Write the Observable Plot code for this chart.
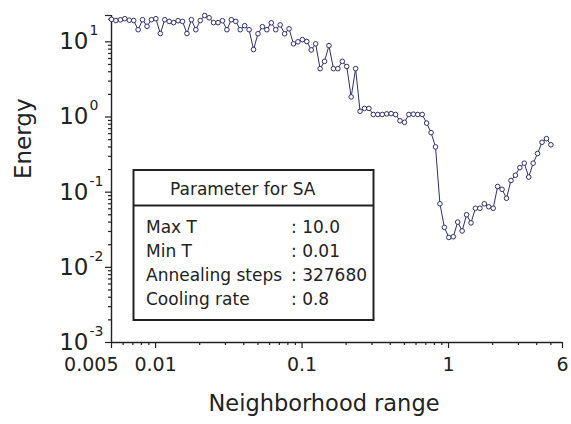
<!DOCTYPE html>
<html><head><meta charset="utf-8">
<script src="https://cdn.jsdelivr.net/npm/d3@7"></script>
<script src="https://cdn.jsdelivr.net/npm/@observablehq/plot@0.6"></script>
<style>
body{margin:0;background:#fff;}
#chart{width:571px;height:424px;}
</style></head>
<body><div id="chart"></div>
<script>
const neighborhoodRange = [
 0.005, 0.005362, 0.005749, 0.006164, 0.006610, 0.007088, 0.007600, 0.008149, 0.008738, 0.009369,
 0.010046, 0.010772, 0.011551, 0.012386, 0.013281, 0.014240, 0.015270, 0.016373, 0.017556, 0.018825,
 0.020185, 0.021644, 0.023208, 0.024885, 0.026684, 0.028612, 0.030680, 0.032897, 0.035274, 0.037823,
 0.040557, 0.043488, 0.046630,
 0.05, 0.05362, 0.05749, 0.06164, 0.06610, 0.07088, 0.07600, 0.08149, 0.08738, 0.09369,
 0.10046, 0.10772, 0.11551, 0.12386, 0.13281, 0.14240, 0.15270, 0.16373, 0.17556, 0.18825,
 0.20185, 0.21644, 0.23208, 0.24885, 0.26684, 0.28612, 0.30680, 0.32897, 0.35274, 0.37823,
 0.40557, 0.43488, 0.46630,
 0.5, 0.5362, 0.5749, 0.6164, 0.6610, 0.7088, 0.7600, 0.8149, 0.8738, 0.9369,
 1.0046, 1.0772, 1.1551, 1.2386, 1.3281, 1.4240, 1.5270, 1.6373, 1.7556, 1.8825,
 2.0185, 2.1644, 2.3208, 2.4885, 2.6684, 2.8612, 3.0680, 3.2897, 3.5274, 3.7823,
 4.0557, 4.3488, 4.6630, 5.0
];
const energy = [
 19.9, 19.2, 19.6, 20.3, 19.4, 19.2, 14.5, 19.7, 16.1, 19.7,
 20.3, 12.9, 19.7, 18.7, 18.0, 19.1, 18.7, 12.9, 19.7, 14.5,
 19.2, 22.4, 20.9, 18.0, 18.0, 19.1, 14.5, 19.7, 18.7, 14.5,
 16.4, 14.5, 7.9, 12.8, 15.9, 14.5, 17.9, 14.5, 16.8, 12.8,
 14.9, 9.4, 10.0, 10.7, 10.1, 7.8, 9.4, 4.4, 5.5, 8.9,
 4.4, 4.4, 5.5, 4.7, 1.85, 4.4, 1.19, 1.30, 1.30, 1.08,
 1.08, 1.08, 1.10, 1.11, 1.08, 0.89, 0.85, 1.08, 1.09, 1.08,
 1.08, 0.83, 0.62, 0.40, 0.070, 0.034, 0.025, 0.0255, 0.040, 0.0305,
 0.050, 0.039, 0.061, 0.061, 0.070, 0.064, 0.061, 0.119, 0.109, 0.083,
 0.143, 0.168, 0.212, 0.243, 0.159, 0.243, 0.327, 0.461, 0.515, 0.427
];
const xTickValues = [0.005, 0.01, 0.1, 1, 6];
const xTickLabels = ["0.005", "0.01", "0.1", "1", "6"];
const yTickExponents = [1, 0, -1, -2, -3];
const xTitle = "Neighborhood range";
const yTitle = "Energy";
const legendTitle = "Parameter for SA";
const paramLabels = ["Max T", "Min T", "Annealing steps", "Cooling rate"];
const paramValues = [": 10.0", ": 0.01", ": 327680", ": 0.8"];

const X_DOMAIN = [0.005, 6];
const Y_DOMAIN = [0.001, 22.4];
const data = neighborhoodRange.map((x, i) => ({x, y: energy[i]}));

const xMinor = [];
for (const k of [-3, -2, -1, 0]) for (let m = 2; m <= 9; m++) {
  const v = m * 10 ** k;
  if (v > X_DOMAIN[0] * 1.0001 && v < X_DOMAIN[1] * 0.9999) xMinor.push(v);
}
const yMinor = [];
for (const k of [-3, -2, -1, 0, 1]) for (let m = 2; m <= 9; m++) {
  const v = m * 10 ** k;
  if (v < Y_DOMAIN[1]) yMinor.push(v);
}
const yMajor = yTickExponents.map(e => 10 ** e).concat([Y_DOMAIN[1]]);

const ink = "#222";
const lineColor = "#2f2f6b";

const plot = Plot.plot({
  width: 571, height: 424,
  marginLeft: 111, marginRight: 9, marginTop: 15, marginBottom: 82,
  x: {type: "log", domain: X_DOMAIN, axis: null},
  y: {type: "log", domain: Y_DOMAIN, axis: null},
  style: {fontFamily: "DejaVu Sans", background: "white", color: ink, overflow: "visible"},
  marks: [
    Plot.axisX({ticks: xTickValues, tickSize: 6, tickFormat: () => "", label: null, stroke: ink, strokeWidth: 1.2}),
    Plot.axisX({ticks: xMinor, tickSize: 3, tickFormat: () => "", label: null, stroke: ink, strokeWidth: 1.2}),
    Plot.axisY({ticks: yMajor, tickSize: 6, tickFormat: () => "", label: null, stroke: ink, strokeWidth: 1.2}),
    Plot.axisY({ticks: yMinor, tickSize: 3, tickFormat: () => "", label: null, stroke: ink, strokeWidth: 1.2}),
    Plot.ruleY([Y_DOMAIN[0]], {stroke: ink, strokeWidth: 1.4}),
    Plot.ruleX([X_DOMAIN[0]], {stroke: ink, strokeWidth: 1.4}),
    Plot.text(xTickValues.slice(0, 1), {x: d => d, text: () => xTickLabels[0], frameAnchor: "bottom", dy: 28, dx: 7, textAnchor: "end", fontSize: 19, fill: ink}),
    Plot.text(xTickValues.slice(1), {x: d => d, text: (d, i) => xTickLabels[i + 1], frameAnchor: "bottom", dy: 28, fontSize: 19, fill: ink}),
    Plot.text(yTickExponents, {y: d => 10 ** d, text: () => "10", frameAnchor: "left", dx: -23, textAnchor: "end", fontSize: 23, fill: ink}),
    Plot.text(yTickExponents, {y: d => 10 ** d, text: d => String(d), frameAnchor: "left", dx: -22, dy: -11, textAnchor: "start", fontSize: 14, fill: ink}),
    Plot.text([xTitle], {frameAnchor: "bottom", dy: 68, dx: -13, fontSize: 22.5, fill: ink}),
    Plot.text([yTitle], {frameAnchor: "left", dx: -88, rotate: -90, fontSize: 23, fill: ink}),
    Plot.line(data, {x: "x", y: "y", stroke: lineColor, strokeWidth: 1}),
    Plot.dot(data, {x: "x", y: "y", r: 2.3, stroke: lineColor, fill: "white", strokeWidth: 1})
  ]
});
document.getElementById("chart").appendChild(plot);

// Parameter box (annotation)
const svg = d3.select(plot);
const g = svg.append("g").attr("font-family", "DejaVu Sans").attr("fill", ink)
  .attr("font-size", 17).attr("text-anchor", "start");
g.append("rect").attr("x", 133.5).attr("y", 170).attr("width", 240).attr("height", 150)
  .attr("fill", "white").attr("stroke", ink).attr("stroke-width", 2);
g.append("line").attr("x1", 133.5).attr("x2", 373.5).attr("y1", 205.5).attr("y2", 205.5)
  .attr("stroke", ink).attr("stroke-width", 2);
g.append("text").attr("x", 170).attr("y", 195).attr("text-anchor", "start").text(legendTitle);
paramLabels.forEach((lab, i) => {
  g.append("text").attr("x", 146).attr("y", 233 + i * 24.1).attr("text-anchor", "start").text(lab);
  g.append("text").attr("x", 291).attr("y", 233 + i * 24.1).attr("text-anchor", "start").text(paramValues[i]);
});
</script>
</body></html>
